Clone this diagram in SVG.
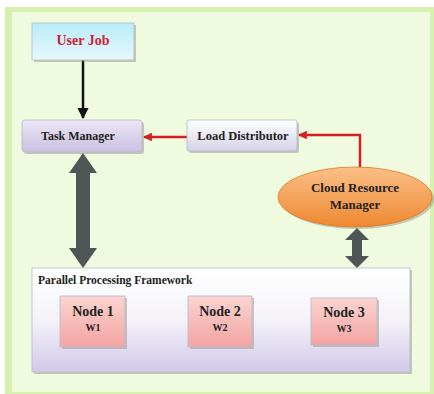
<svg xmlns="http://www.w3.org/2000/svg" width="434" height="394" viewBox="0 0 434 394">
<defs>
<linearGradient id="gUser" x1="0" y1="0" x2="0" y2="1"><stop offset="0" stop-color="#b8ecf8"/><stop offset="1" stop-color="#e6f8fb"/></linearGradient>
<linearGradient id="gTask" x1="0" y1="0" x2="0" y2="1"><stop offset="0" stop-color="#ece6f6"/><stop offset="1" stop-color="#c9c0e2"/></linearGradient>
<linearGradient id="gLoad" x1="0" y1="0" x2="0" y2="1"><stop offset="0" stop-color="#ffffff"/><stop offset="1" stop-color="#d6d2e6"/></linearGradient>
<linearGradient id="gCloud" x1="0" y1="0" x2="0" y2="1"><stop offset="0" stop-color="#fbc088"/><stop offset="1" stop-color="#ee8830"/></linearGradient>
<linearGradient id="gPar" x1="0" y1="0" x2="0" y2="1"><stop offset="0" stop-color="#ffffff"/><stop offset="0.5" stop-color="#f4f2f8"/><stop offset="1" stop-color="#d2c8e8"/></linearGradient>
<linearGradient id="gNode" x1="0" y1="0" x2="0" y2="1"><stop offset="0" stop-color="#fbd4d0"/><stop offset="1" stop-color="#f2a4a2"/></linearGradient>
<marker id="aBlack" viewBox="0 0 10 10" refX="9" refY="5" markerWidth="4.5" markerHeight="4.5" orient="auto"><path d="M0,0 L10,5 L0,10 z" fill="#111"/></marker>
<marker id="aRed" viewBox="0 0 10 10" refX="9" refY="5" markerWidth="4" markerHeight="3.5" orient="auto"><path d="M0,0 L10,5 L0,10 z" fill="#d42020"/></marker>
</defs>
<style>
text{font-family:'Liberation Serif','DejaVu Serif',serif;font-weight:bold;fill:#222;text-anchor:middle}
.box{stroke:#b8b8c8;stroke-width:0.8}
.shadow{fill:#8a8a8a;opacity:0.45}
.dbl{fill:#505555}
</style>
<rect x="0" y="0" width="434" height="394" fill="#ffffff"/>
<rect x="5" y="7" width="429" height="387" fill="#d6f0ae"/>
<rect x="12" y="12" width="418" height="380" fill="#f0fadf"/>

<g id="connectors">
<line x1="83" y1="60" x2="83" y2="118" stroke="#111" stroke-width="2.5" marker-end="url(#aBlack)"/>
<line x1="187" y1="137" x2="144" y2="137" stroke="#d42020" stroke-width="2.5" marker-end="url(#aRed)"/>
<polyline points="360,168 360,135 299,135" fill="none" stroke="#d42020" stroke-width="2.5" marker-end="url(#aRed)"/>
<path class="dbl" d="M83,153 L97,173 L90,173 L90,248 L97,248 L83,268 L69,248 L76,248 L76,173 L69,173 Z"/>
<path class="dbl" d="M357,228 L369,240 L362,240 L362,256 L369,256 L357,268 L345,256 L352,256 L352,240 L345,240 Z"/>
</g>

<g id="user-job">
<rect x="34" y="25" width="102" height="37" class="shadow"/>
<rect x="32" y="23" width="102" height="37" fill="url(#gUser)" class="box"/>
<text x="83" y="45" font-family="Liberation Serif, serif" font-size="14" style="fill:#d0203a">User Job</text>
</g>

<g id="task-manager">
<rect x="24" y="122" width="120" height="32" rx="3" class="shadow"/>
<rect x="22" y="120" width="120" height="32" rx="3" fill="url(#gTask)" class="box"/>
<text x="78" y="140" font-family="Liberation Serif, serif" font-size="12">Task Manager</text>
</g>

<g id="load-distributor">
<rect x="189" y="122" width="110" height="31" rx="2" class="shadow"/>
<rect x="187" y="120" width="110" height="31" rx="2" fill="url(#gLoad)" class="box"/>
<text x="243" y="140" font-family="Liberation Serif, serif" font-size="12.5">Load Distributor</text>
</g>

<g id="cloud-resource-manager">
<ellipse cx="357" cy="199" rx="77" ry="30" class="shadow"/>
<ellipse cx="355" cy="197" rx="77" ry="30" fill="url(#gCloud)" stroke="#e07a20" stroke-width="0.8"/>
<text x="355" y="192" font-family="Liberation Serif, serif" font-size="13">Cloud Resource</text>
<text x="355" y="209" font-family="Liberation Serif, serif" font-size="13">Manager</text>
</g>

<g id="parallel-processing-framework">
<rect x="34" y="270" width="378" height="104" class="shadow"/>
<rect x="32" y="268" width="378" height="104" fill="url(#gPar)" class="box"/>
<text x="38" y="284" font-family="Liberation Serif, serif" font-size="11.5" style="text-anchor:start">Parallel Processing Framework</text>
</g>

<g id="node-1">
<rect x="62" y="298" width="65" height="51" class="shadow"/>
<rect x="60" y="296" width="65" height="51" fill="url(#gNode)" class="box"/>
<text x="93" y="316" font-family="Liberation Serif, serif" font-size="14">Node 1</text>
<text x="93" y="331" font-family="Liberation Serif, serif" font-size="10">W1</text>
</g>

<g id="node-2">
<rect x="190" y="298" width="64" height="51" class="shadow"/>
<rect x="188" y="296" width="64" height="51" fill="url(#gNode)" class="box"/>
<text x="220" y="316" font-family="Liberation Serif, serif" font-size="14">Node 2</text>
<text x="220" y="331" font-family="Liberation Serif, serif" font-size="10">W2</text>
</g>

<g id="node-3">
<rect x="313" y="300" width="66" height="47" class="shadow"/>
<rect x="311" y="298" width="66" height="47" fill="url(#gNode)" class="box"/>
<text x="344" y="317" font-family="Liberation Serif, serif" font-size="14">Node 3</text>
<text x="344" y="332" font-family="Liberation Serif, serif" font-size="10">W3</text>
</g>
</svg>
